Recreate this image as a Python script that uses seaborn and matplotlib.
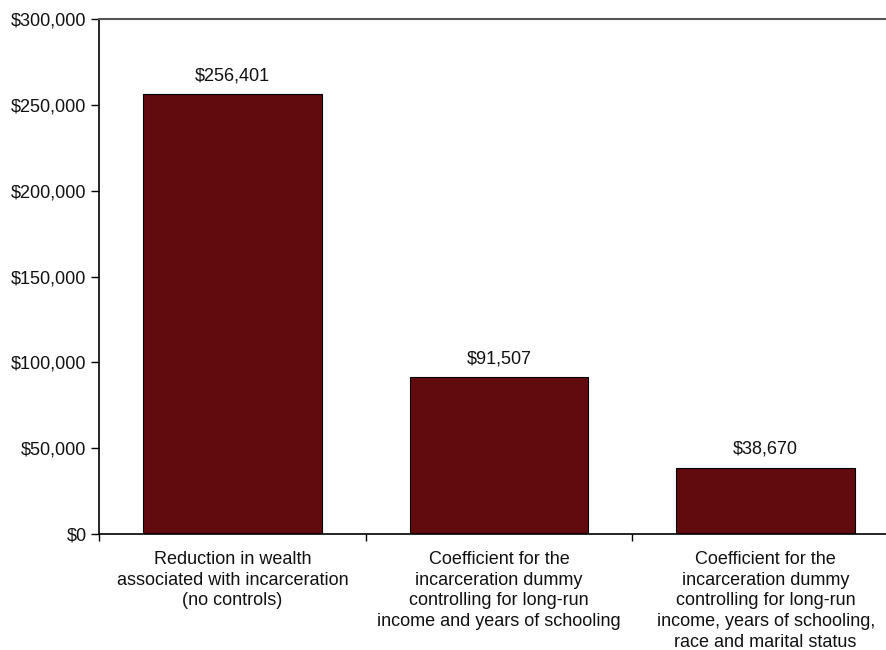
import matplotlib
matplotlib.use("Agg")
import matplotlib.pyplot as plt
import seaborn as sns
import pandas as pd
from matplotlib.ticker import FuncFormatter, FixedLocator

categories = [
    "Reduction in wealth\nassociated with incarceration\n(no controls)",
    "Coefficient for the\nincarceration dummy\ncontrolling for long-run\nincome and years of schooling",
    "Coefficient for the\nincarceration dummy\ncontrolling for long-run\nincome, years of schooling,\nrace and marital status",
]
values = [256401, 91507, 38670]
value_labels = ["$256,401", "$91,507", "$38,670"]
yticks = [0, 50000, 100000, 150000, 200000, 250000, 300000]

sns.set_theme(style="white")
plt.rcParams['font.family'] = ['Liberation Sans', 'DejaVu Sans']

df = pd.DataFrame({"cat": categories, "val": values})

fig = plt.figure(figsize=(8.86, 6.5), dpi=100)
ax = fig.add_axes([99/886, 1-534/650, 800/886, (534-19)/650])

sns.barplot(data=df, x="cat", y="val", color="#620B0F", width=0.67,
            edgecolor="black", linewidth=0.8, saturation=1, ax=ax)

ax.set_xlim(-0.5, 2.5)
ax.set_ylim(0, 300000)
ax.set_yticks(yticks)
ax.yaxis.set_major_formatter(FuncFormatter(lambda v, p: "${:,.0f}".format(v)))
ax.set_xlabel("")
ax.set_ylabel("")

ax.tick_params(axis="y", which="major", direction="out", length=6, width=1, color="black",
               labelsize=13, pad=3, left=True, labelcolor="#111111")
ax.tick_params(axis="x", which="major", length=0, labelsize=13, pad=12, labelcolor="#111111")
for lbl in ax.get_xticklabels():
    lbl.set_linespacing(1.3)
    lbl.set_verticalalignment("top")
ax.xaxis.set_minor_locator(FixedLocator([-0.5, 0.5, 1.5, 2.5]))
ax.tick_params(axis="x", which="minor", direction="out", length=5, width=1, color="black", bottom=True)

ax.spines["right"].set_visible(False)
ax.spines["top"].set_color("#555555")
ax.spines["top"].set_linewidth(1.5)
ax.spines["left"].set_color("black")
ax.spines["left"].set_linewidth(1.2)
ax.spines["bottom"].set_color("black")
ax.spines["bottom"].set_linewidth(1.2)

for i, (v, t) in enumerate(zip(values, value_labels)):
    ax.annotate(t, (i, v), xytext=(0, 7), textcoords="offset points",
                ha="center", va="bottom", fontsize=13, color="#111111")

fig.savefig("out.png", dpi=100)
